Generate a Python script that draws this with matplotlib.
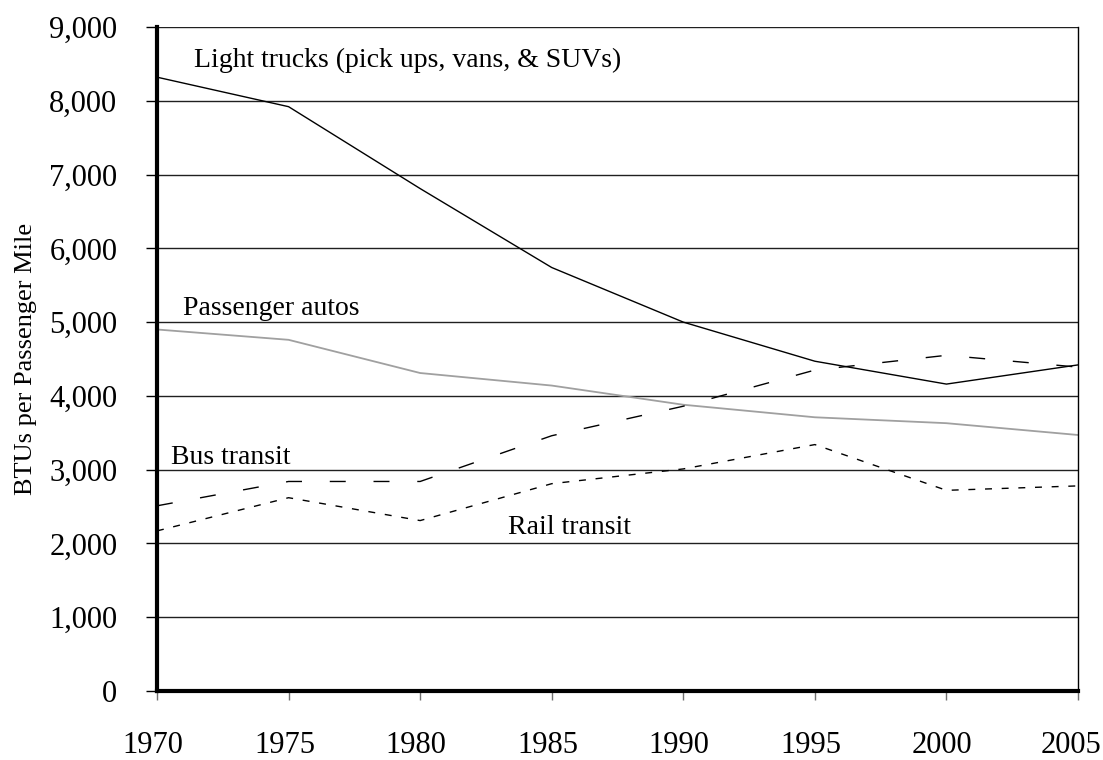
import matplotlib
matplotlib.use("Agg")
import matplotlib.pyplot as plt
from matplotlib.transforms import ScaledTranslation

years = [1970, 1975, 1980, 1985, 1990, 1995, 2000, 2005]
light_trucks = [8320, 7920, 6810, 5740, 5000, 4470, 4160, 4420]
passenger_autos = [4900, 4760, 4310, 4140, 3880, 3710, 3630, 3470]
bus_transit = [2510, 2840, 2840, 3460, 3860, 4350, 4550, 4390]
rail_transit = [2170, 2620, 2310, 2810, 3010, 3340, 2720, 2780]
yticks = list(range(0, 9001, 1000))

plt.rcParams['font.family'] = ['Liberation Serif', 'DejaVu Serif']
plt.rcParams['lines.scale_dashes'] = False

fig = plt.figure(figsize=(11.03, 7.6), dpi=100)
ax = fig.add_axes([157/1103, 1 - 691/760, (1078-157)/1103, (691-27)/760])

ax.plot(years, light_trucks, color='black', lw=1.0)
ax.plot(years, passenger_autos, color='#a0a0a0', lw=1.3)
ax.plot(years, bus_transit, color='black', lw=1.0, dashes=(11.5, 20))
ax.plot(years, rail_transit, color='black', lw=1.0, dashes=(5, 7))

ax.set_xlim(1970, 2005)
ax.set_ylim(0, 9000)
ax.set_yticks(yticks)
ax.set_yticklabels([f"{v:,}" for v in yticks])
ax.set_xticks(years)
ax.set_xticklabels([str(y) for y in years])
ax.yaxis.grid(True, color='#202020', lw=1.0)
ax.set_axisbelow(True)

ax.spines['top'].set_visible(False)
ax.spines['left'].set_linewidth(3.0)
ax.spines['bottom'].set_linewidth(3.0)
ax.spines['right'].set_linewidth(1.0)

ax.tick_params(axis='y', direction='out', length=7.6, width=1, labelsize=22, pad=21)
ax.tick_params(axis='x', direction='out', length=6.5, width=1, color='#707070',
               labelsize=22, pad=22.5)

labels = ax.get_xticklabels()
for i, lab in enumerate(labels):
    dx = -7 if i == len(labels) - 1 else -4
    lab.set_transform(lab.get_transform() + ScaledTranslation(dx / 100, 0, fig.dpi_scale_trans))

ax.set_ylabel("BTUs per Passenger Mile", fontsize=19, labelpad=9)

ax.text(1971.4, 8460, "Light trucks (pick ups, vans, & SUVs)", fontsize=20, va='baseline')
ax.text(1971.0, 5090, "Passenger autos", fontsize=20, va='baseline')
ax.text(1970.55, 3080, "Bus transit", fontsize=20, va='baseline')
ax.text(1983.35, 2130, "Rail transit", fontsize=20, va='baseline')

fig.savefig("out.png", dpi=100)
